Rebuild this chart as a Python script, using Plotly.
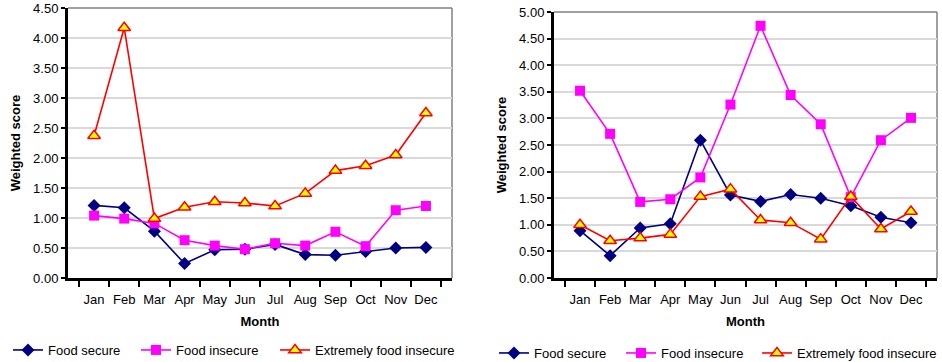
import plotly.graph_objects as go

months = ["Jan", "Feb", "Mar", "Apr", "May", "Jun", "Jul", "Aug", "Sep", "Oct", "Nov", "Dec"]

left_secure = [1.21, 1.17, 0.78, 0.24, 0.47, 0.48, 0.56, 0.39, 0.38, 0.44, 0.50, 0.51]
left_insecure = [1.04, 0.99, 0.91, 0.63, 0.54, 0.48, 0.58, 0.54, 0.77, 0.53, 1.13, 1.20]
left_extreme = [2.37, 4.17, 0.99, 1.18, 1.27, 1.25, 1.20, 1.41, 1.79, 1.87, 2.05, 2.75]

right_secure = [0.89, 0.42, 0.94, 1.02, 2.59, 1.56, 1.44, 1.57, 1.50, 1.36, 1.14, 1.04]
right_insecure = [3.52, 2.71, 1.43, 1.48, 1.89, 3.26, 4.74, 3.44, 2.89, 1.52, 2.59, 3.01]
right_extreme = [1.00, 0.70, 0.75, 0.82, 1.53, 1.67, 1.09, 1.04, 0.73, 1.53, 0.92, 1.25]

series_names = ["Food secure", "Food insecure", "Extremely food insecure"]

W, H = 942, 362
FONT = "Liberation Sans, Arial, sans-serif"


def px_x(p):
    return p / W


def px_y(p):
    return (H - p) / H


styles = [
    dict(line=dict(color="#000080", width=1.6),
         marker=dict(symbol="diamond", size=10, color="#000080")),
    dict(line=dict(color="#FF00FF", width=1.6),
         marker=dict(symbol="square", size=10, color="#FF00FF")),
    dict(line=dict(color="#FF0000", width=1.6),
         marker=dict(symbol="triangle-up", size=11, color="#FFFF00",
                     line=dict(color="#FF0000", width=1.5))),
]

# one legend per entry so each can sit exactly where the reference shows it
legend_ids = [["legend", "legend2", "legend3"], ["legend4", "legend5", "legend6"]]
legend_text_x = [[48, 176, 315], [534, 661, 797]]
legend_y = [350, 353]

fig = go.Figure()

for sub, data in [(0, [left_secure, left_insecure, left_extreme]),
                  (1, [right_secure, right_insecure, right_extreme])]:
    xa = "x" if sub == 0 else "x2"
    ya = "y" if sub == 0 else "y2"
    for i, (name, vals, st) in enumerate(zip(series_names, data, styles)):
        fig.add_trace(go.Scatter(x=months, y=vals, name=name, mode="lines+markers",
                                 xaxis=xa, yaxis=ya, legend=legend_ids[sub][i], **st))

common_x = dict(type="category", showgrid=False, showline=True, linecolor="black", linewidth=3,
                ticks="outside", tickson="boundaries", ticklen=6, tickwidth=2, tickcolor="black",
                tickfont=dict(family=FONT, size=13, color="black"), tickangle=0,
                title=dict(text="<b>Month</b>", font=dict(family=FONT, size=13, color="black"), standoff=12),
                ticklabelstandoff=7, zeroline=False, fixedrange=True, automargin=False)
common_y = dict(showgrid=True, gridcolor="#D9D9D9", gridwidth=1.5, showline=True, linecolor="black",
                linewidth=3, ticks="outside", ticklen=4, tickwidth=1.5, tickcolor="black",
                tickfont=dict(family=FONT, size=13, color="black"), tickformat=".2f",
                title=dict(text="<b>Weighted score</b>", font=dict(family=FONT, size=13, color="black"), standoff=10),
                zeroline=False, fixedrange=True, automargin=False)

layout = dict(
    width=W, height=H,
    margin=dict(l=0, r=0, t=0, b=0, autoexpand=False),
    paper_bgcolor="white", plot_bgcolor="white",
    font=dict(family=FONT, size=13, color="black"),
    xaxis=dict(domain=[px_x(68), px_x(452)], anchor="y", **common_x),
    yaxis=dict(domain=[px_y(278), px_y(8)], anchor="x", range=[0, 4.5], dtick=0.5, **common_y),
    xaxis2=dict(domain=[px_x(554), px_x(937)], anchor="y2", **common_x),
    yaxis2=dict(domain=[px_y(278), px_y(12)], anchor="x2", range=[0, 5.0], dtick=0.5, **common_y),
    showlegend=True,
)
for sub in range(2):
    for i in range(3):
        layout[legend_ids[sub][i]] = dict(
            orientation="h", x=px_x(legend_text_x[sub][i] - 40), y=px_y(legend_y[sub]),
            xanchor="left", yanchor="middle", itemwidth=30,
            font=dict(family=FONT, size=13, color="black"),
            bgcolor="rgba(0,0,0,0)", itemclick=False, itemdoubleclick=False)
fig.update_layout(**layout)

# gray frame on top and right of each plot area
for xr, yr in [("x domain", "y domain"), ("x2 domain", "y2 domain")]:
    fig.add_shape(type="line", xref=xr, yref=yr, x0=0, x1=1, y0=1, y1=1,
                  line=dict(color="#808080", width=1.5), layer="below")
    fig.add_shape(type="line", xref=xr, yref=yr, x0=1, x1=1, y0=0, y1=1,
                  line=dict(color="#808080", width=1.5), layer="below")

# remove the page's default 8px body margin so the figure sits at the window corner
fig.write_html("out.html",
               config={"displayModeBar": False, "staticPlot": False},
               post_script="document.body.style.margin='0';document.body.style.overflow='hidden';")
